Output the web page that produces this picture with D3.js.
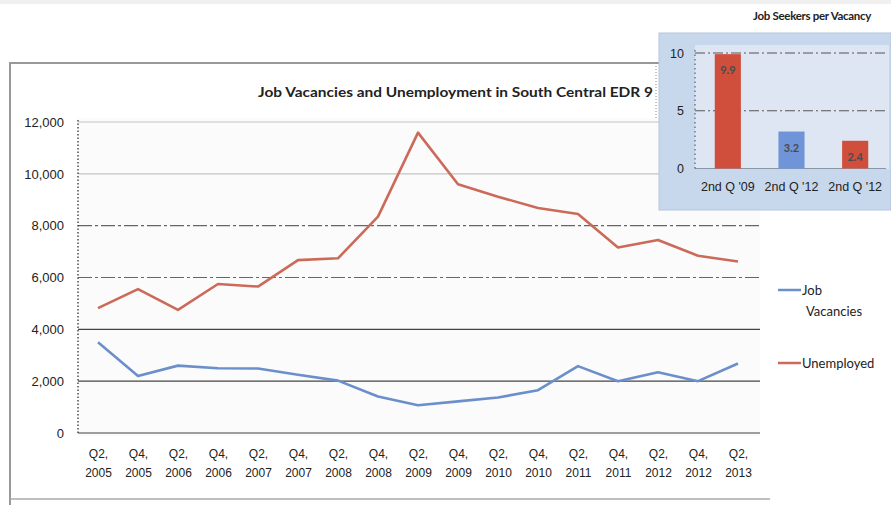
<!DOCTYPE html>
<html>
<head>
    <meta charset="UTF-8">
    <style>
        body { margin: 0; background: #fff; }
        svg { display: block; font-family: Lato, "Liberation Sans", sans-serif; }
        .tick text { fill: #222; }
    </style>
    <script src="https://d3js.org/d3.v7.min.js"></script>
    <title>Job Vacancies and Unemployment</title>
</head>
<body>
    <svg width="891" height="507"></svg>
    <script>
        // data
        var quarters = ["Q2", "Q4", "Q2", "Q4", "Q2", "Q4", "Q2", "Q4", "Q2", "Q4", "Q2", "Q4", "Q2", "Q4", "Q2", "Q4", "Q2"];
        var years = ["2005", "2005", "2006", "2006", "2007", "2007", "2008", "2008", "2009", "2009", "2010", "2010", "2011", "2011", "2012", "2012", "2013"];
        var vacancies = [3500, 2200, 2600, 2500, 2490, 2250, 2020, 1410, 1070, 1220, 1370, 1650, 2580, 2000, 2340, 2000, 2680];
        var unemployed = [4820, 5550, 4750, 5750, 5650, 6670, 6740, 8350, 11590, 9600, 9120, 8680, 8450, 7160, 7450, 6840, 6620];
        var yTicks = [0, 2000, 4000, 6000, 8000, 10000, 12000];

        var insetCats = ["2nd Q '09", "2nd Q '12", "2nd Q '12 "];
        var insetLabels = ["9.9", "3.2", "2.4"];
        var insetValues = [9.9, 3.2, 2.4];
        var insetTicks = [0, 5, 10];

        var categories = quarters.map(function(q, i) { return q + ", " + years[i]; });

        var svg = d3.select("svg");

        // faint scan edge at top
        svg.append("rect").attr("x", 0).attr("y", 0).attr("width", 891).attr("height", 4).attr("fill", "#f0f0f0");

        // outer frame of the main chart
        svg.append("path")
            .attr("d", "M10,505 L10,63 L659,63")
            .attr("fill", "none").attr("stroke", "#999").attr("stroke-width", 2);
        svg.append("line")
            .attr("x1", 10).attr("x2", 770).attr("y1", 499).attr("y2", 499)
            .attr("stroke", "#aaa").attr("stroke-width", 1.5);
        svg.append("line")
            .attr("x1", 656).attr("x2", 656).attr("y1", 63).attr("y2", 210)
            .attr("stroke", "#888").attr("stroke-dasharray", "1,2");

        var x = d3.scalePoint().domain(categories).range([78, 758]).padding(0.5);
        var y = d3.scaleLinear().domain([0, 12000]).range([433, 122]);

        svg.append("rect")
            .attr("x", 78).attr("y", 118).attr("width", 682).attr("height", 318)
            .attr("fill", "#fbfbfb");

        // title
        svg.append("text")
            .attr("x", 258).attr("y", 97)
            .attr("textLength", 395).attr("lengthAdjust", "spacingAndGlyphs")
            .attr("font-size", "14px")
            .attr("font-weight", "bold")
            .attr("fill", "#222")
            .text("Job Vacancies and Unemployment in South Central EDR 9");

        // grid lines
        svg.append("g").selectAll("line")
            .data(yTicks)
            .enter().append("line")
            .attr("x1", 78).attr("x2", 760)
            .attr("y1", function(d) { return y(d); })
            .attr("y2", function(d) { return y(d); })
            .attr("stroke", function(d) { return d >= 10000 ? "#c4c4c4" : (d >= 6000 ? "#666" : "#444"); })
            .attr("stroke-dasharray", function(d) { return (d >= 6000 && d < 10000) ? "14,3,3,3" : null; })
            .attr("stroke-width", 1.2);

        // y axis
        var yAxis = svg.append("g")
            .attr("transform", "translate(78,0)")
            .call(d3.axisLeft(y).tickValues(yTicks).tickFormat(d3.format(",")).tickSize(0).tickPadding(14));
        yAxis.select(".domain").remove();
        yAxis.selectAll("text").attr("font-size", "13px").attr("font-family", "inherit");
        svg.append("line")
            .attr("x1", 78).attr("x2", 78).attr("y1", 120).attr("y2", 434)
            .attr("stroke", "#333").attr("stroke-width", 1.3).attr("stroke-dasharray", "1.5,2");

        // x axis, two line labels
        var xAxis = svg.append("g")
            .attr("transform", "translate(0,433)")
            .call(d3.axisBottom(x).tickSize(0).tickFormat(""));
        xAxis.select(".domain").remove();
        xAxis.selectAll(".tick text").remove();
        xAxis.selectAll(".tick").append("text")
            .attr("text-anchor", "middle")
            .attr("font-size", "12px")
            .attr("fill", "#222")
            .each(function(d, i) {
                var t = d3.select(this);
                t.append("tspan").attr("x", 0).attr("y", 25).text(quarters[i] + ",");
                t.append("tspan").attr("x", 0).attr("y", 44).text(years[i]);
            });

        // lines
        var line = d3.line()
            .x(function(d, i) { return x(categories[i]); })
            .y(function(d) { return y(d); });

        svg.append("path").datum(vacancies)
            .attr("d", line).attr("fill", "none")
            .attr("stroke", "#6b8fcb").attr("stroke-width", 2.6).attr("stroke-linejoin", "round");
        svg.append("path").datum(unemployed)
            .attr("d", line).attr("fill", "none")
            .attr("stroke", "#cc6a5a").attr("stroke-width", 2.6).attr("stroke-linejoin", "round");

        // legend
        var legend = svg.append("g").attr("font-size", "13px").attr("fill", "#222");
        legend.append("line").attr("x1", 778).attr("x2", 801).attr("y1", 290).attr("y2", 290)
            .attr("stroke", "#6b8fcb").attr("stroke-width", 2.5);
        legend.append("text").attr("x", 802).attr("y", 295).text("Job");
        legend.append("text").attr("x", 806).attr("y", 316).text("Vacancies");
        legend.append("line").attr("x1", 778).attr("x2", 801).attr("y1", 363).attr("y2", 363)
            .attr("stroke", "#cc6a5a").attr("stroke-width", 2.5);
        legend.append("text").attr("x", 802).attr("y", 368).text("Unemployed");

        // inset: job seekers per vacancy
        var inset = svg.append("g");
        inset.append("text")
            .attr("x", 812).attr("y", 20)
            .attr("text-anchor", "middle")
            .attr("font-size", "11.5px").attr("font-weight", "bold").attr("fill", "#222")
            .attr("letter-spacing", "-0.3px")
            .text("Job Seekers per Vacancy");
        inset.append("rect")
            .attr("x", 659).attr("y", 33).attr("width", 232).attr("height", 177)
            .attr("fill", "#c8d8ec").attr("stroke", "#b5c6dc");
        inset.append("rect")
            .attr("x", 695).attr("y", 45).attr("width", 194).attr("height", 124)
            .attr("fill", "#dde6f2");

        var bx = d3.scaleBand().domain(insetCats).range([696, 887]).paddingInner(0.59).paddingOuter(0.295);
        var by = d3.scaleLinear().domain([0, 10]).range([168.5, 53]);

        inset.append("g").selectAll("line")
            .data(insetTicks)
            .enter().append("line")
            .attr("x1", 695).attr("x2", 886)
            .attr("y1", function(d) { return by(d); })
            .attr("y2", function(d) { return by(d); })
            .attr("stroke", function(d) { return d === 0 ? "#8a96a6" : "#555"; })
            .attr("stroke-dasharray", function(d) { return d === 0 ? null : "10,3,2,3"; });

        var iy = inset.append("g")
            .attr("transform", "translate(695,0)")
            .call(d3.axisLeft(by).tickValues(insetTicks).tickSize(0).tickPadding(11));
        iy.select(".domain").remove();
        iy.selectAll("text").attr("font-size", "12.5px").attr("font-family", "inherit");
        inset.append("line")
            .attr("x1", 695).attr("x2", 695).attr("y1", 50).attr("y2", 169)
            .attr("stroke", "#444").attr("stroke-dasharray", "1.5,3");

        inset.selectAll(".ibar")
            .data(insetValues)
            .enter().append("rect")
            .attr("class", "ibar")
            .attr("x", function(d, i) { return bx(insetCats[i]); })
            .attr("y", function(d) { return by(d); })
            .attr("width", bx.bandwidth())
            .attr("height", function(d) { return by(0) - by(d); })
            .attr("fill", function(d, i) { return i === 1 ? "#6f95d8" : "#cf4f3c"; });

        inset.selectAll(".ilab")
            .data(insetValues)
            .enter().append("text")
            .attr("class", "ilab")
            .attr("x", function(d, i) { return bx(insetCats[i]) + bx.bandwidth() / 2; })
            .attr("y", function(d) { return by(d) + 20; })
            .attr("text-anchor", "middle")
            .attr("font-size", "11px").attr("font-weight", "bold").attr("fill", "#4a4a4a")
            .text(function(d, i) { return insetLabels[i]; });

        var ix = inset.append("g")
            .attr("transform", "translate(0,168.5)")
            .call(d3.axisBottom(bx).tickSize(0).tickPadding(14));
        ix.select(".domain").remove();
        ix.selectAll("text").attr("font-size", "12.5px").attr("font-family", "inherit").attr("fill", "#222");
    </script>
</body>
</html>
